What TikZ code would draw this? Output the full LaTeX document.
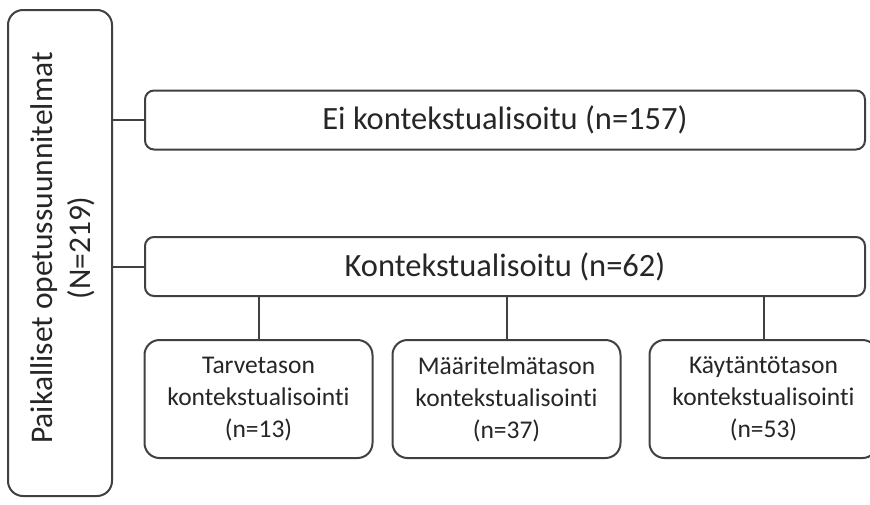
\documentclass[tikz,border=0pt]{standalone}
\usepackage{fontspec}
\setmainfont{Carlito}[Ligatures=NoCommon]
\definecolor{edge}{HTML}{404040}
\definecolor{ink}{HTML}{262626}
\begin{document}
\begin{tikzpicture}[x=1pt,y=-1pt,
  box/.style={draw=edge, line width=2pt, fill=white, text=ink, inner sep=0pt},
  bigbox/.style={box, rounded corners=9pt, minimum width=720pt, minimum height=59pt, font=\fontsize{32.5}{38}\selectfont},
  subbox/.style={box, rounded corners=15pt, minimum width=228pt, minimum height=118pt, align=center, font=\fontsize{25.5}{32}\selectfont},
  link/.style={draw=edge, line width=2pt}]
\useasboundingbox (0,0) rectangle (870,504);
\node[box, rounded corners=15pt, minimum width=104pt, minimum height=486pt] (root) at (60,253) {};
\node[rotate=90, align=center, text=ink, font=\fontsize{31.5}{38}\selectfont] (roottext) at (63,248) {Paikalliset opetussuunnitelmat\\(N=219)};
\node[bigbox] (ei) at (505,120) {Ei kontekstualisoitu (n=157)};
\node[bigbox] (kont) at (505,266.5) {Kontekstualisoitu (n=62)};
\node[subbox] (c1) at (258.5,399) {Tarvetason\\kontekstualisointi\\(n=13)};
\node[subbox] (c2) at (506.5,399) {Määritelmätason\\kontekstualisointi\\(n=37)};
\node[subbox] (c3) at (763.5,399) {Käytäntötason\\kontekstualisointi\\(n=53)};
\draw[link] (root.east |- ei.west) -- (ei.west);
\draw[link] (root.east |- kont.west) -- (kont.west);
\draw[link] (c1.north |- kont.south) -- (c1.north);
\draw[link] (c2.north |- kont.south) -- (c2.north);
\draw[link] (c3.north |- kont.south) -- (c3.north);
\end{tikzpicture}
\end{document}
